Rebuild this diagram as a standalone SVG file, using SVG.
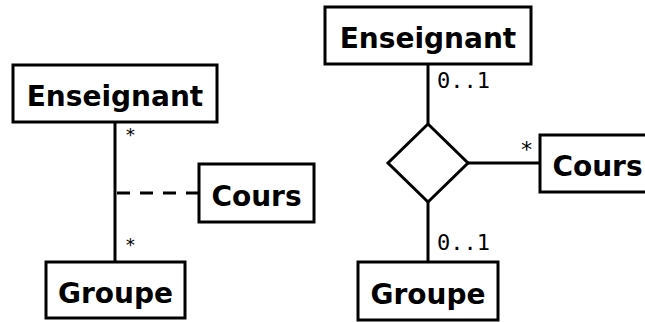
<svg xmlns="http://www.w3.org/2000/svg" width="645" height="322" viewBox="0 0 645 322">
<style>
.box{fill:#fff;stroke:#000;stroke-width:3}
.lbl{font-family:"DejaVu Sans",sans-serif;font-weight:bold;font-size:28px;fill:#000;text-anchor:middle}
.mult{font-family:"DejaVu Sans Mono",monospace;font-size:22px;fill:#000}
.line{fill:none;stroke:#000;stroke-width:3}
</style>
<rect width="645" height="322" fill="#fff"/>
<g id="connectors">
<line class="line" x1="115" y1="122" x2="115" y2="262"/>
<line class="line" x1="199" y1="193" x2="115" y2="193" stroke-dasharray="13,10"/>
<line class="line" x1="428" y1="64" x2="428" y2="124"/>
<line class="line" x1="428" y1="202" x2="428" y2="262"/>
<line class="line" x1="468" y1="163" x2="540" y2="163"/>
<text class="mult" x="125" y="141" style="font-size:18px">*</text>
<text class="mult" x="125" y="251" style="font-size:18px">*</text>
<text class="mult" x="437" y="88">0..1</text>
<text class="mult" x="437" y="250">0..1</text>
<text class="mult" x="520" y="157">*</text>
</g>
<g id="enseignant1"><rect class="box" x="13" y="65" width="204" height="57"/><text class="lbl" x="115" y="106">Enseignant</text></g>
<g id="cours1"><rect class="box" x="199" y="164" width="115" height="58"/><text class="lbl" x="256.5" y="206">Cours</text></g>
<g id="groupe1"><rect class="box" x="46" y="262" width="139" height="56"/><text class="lbl" x="115.5" y="303">Groupe</text></g>
<g id="enseignant2"><rect class="box" x="325" y="7" width="206" height="57"/><text class="lbl" x="428" y="48">Enseignant</text></g>
<g id="assoc"><polygon class="line" fill="#fff" points="428,124 468,163 428,202 388,163" style="fill:#fff"/></g>
<g id="cours2"><rect class="box" x="540" y="135" width="115" height="57"/><text class="lbl" x="597.5" y="176">Cours</text></g>
<g id="groupe2"><rect class="box" x="358" y="262" width="140" height="58"/><text class="lbl" x="428" y="304">Groupe</text></g>
</svg>
